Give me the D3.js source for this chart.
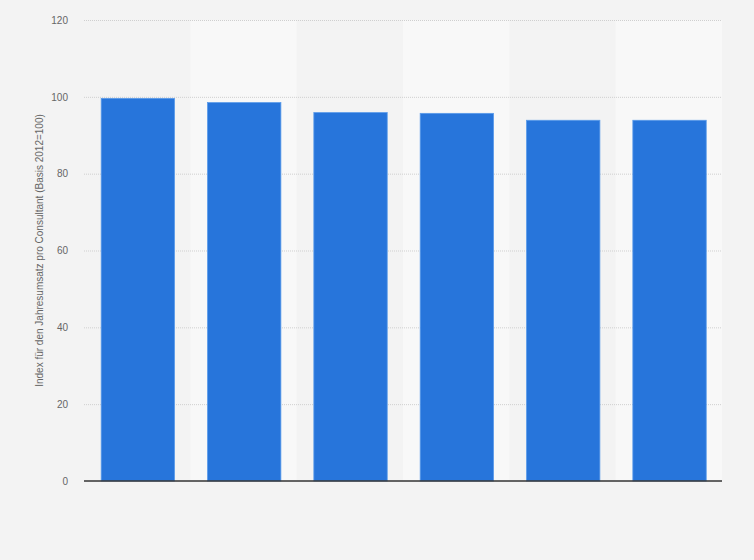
<!DOCTYPE html>
<html>
<head>
<meta charset="utf-8">
<script src="https://cdn.jsdelivr.net/npm/d3@7"></script>
<style>
	body { margin: 0; background: #f3f3f3; }
	svg { display: block; font-family: "Liberation Sans", Arial, sans-serif; }
</style>
</head>
<body>
<div id="chart"></div>
<script>

// data (index, 2012 = 100)
var categories = ["2012", "2013", "2014", "2015", "2016", "2017"];
var values = [99.6, 98.5, 95.9, 95.7, 93.9, 93.9];
var yTicks = [0, 20, 40, 60, 80, 100, 120];
var yTitle = "Index für den Jahresumsatz pro Consultant (Basis 2012=100)";

function drawChart() {

	var width = 754;
	var height = 560;
	var margin = { top: 20, right: 32, bottom: 79, left: 84 };

	var svg = d3.select("div#chart")
		.append("svg")
		.attr("width", width)
		.attr("height", height);

	svg.append("rect")
		.attr("width", width)
		.attr("height", height)
		.attr("fill", "#f3f3f3");

	var x = d3.scaleBand()
		.domain(categories)
		.range([margin.left, width - margin.right])
		.paddingInner(0.31)
		.paddingOuter(0.155);

	var y = d3.scaleLinear()
		.domain([0, 120])
		.range([height - margin.bottom, margin.top]);

	// alternating lighter bands behind every second category
	var step = x.step();
	var gap = step - x.bandwidth();
	svg.append("g")
		.selectAll("rect")
		.data(categories.filter(function(d, i) { return i % 2 == 1; }))
		.enter()
		.append("rect")
		.attr("x", function(d) { return x(d) - gap / 2; })
		.attr("y", y(120))
		.attr("width", step)
		.attr("height", y(0) - y(120))
		.attr("fill", "#f8f8f8");

	// gridlines
	svg.append("g")
		.selectAll("line")
		.data(yTicks.filter(function(d) { return d > 0; }))
		.enter()
		.append("line")
		.attr("x1", margin.left)
		.attr("x2", width - margin.right)
		.attr("y1", function(d) { return y(d) + 0.5; })
		.attr("y2", function(d) { return y(d) + 0.5; })
		.attr("stroke", "#cfcfcf")
		.attr("stroke-width", 1)
		.attr("stroke-dasharray", "1,1");

	// y axis labels
	var yAxis = d3.axisLeft(y)
		.tickValues(yTicks)
		.tickSize(0)
		.tickPadding(16);

	var gy = svg.append("g")
		.attr("transform", "translate(" + margin.left + ",0)")
		.call(yAxis);
	gy.select(".domain").remove();
	gy.selectAll("text")
		.attr("fill", "#666")
		.style("font-size", "10px");

	svg.append("text")
		.attr("transform", "translate(43," + ((y(0) + y(120)) / 2) + ") rotate(-90)")
		.attr("text-anchor", "middle")
		.attr("fill", "#666")
		.style("font-size", "10px")
		.text(yTitle);

	// bars
	svg.append("g")
		.attr("transform", "translate(0.7,0)")
		.selectAll("rect")
		.data(values)
		.enter()
		.append("rect")
		.attr("x", function(d, i) { return x(categories[i]); })
		.attr("y", function(d) { return y(d); })
		.attr("width", x.bandwidth())
		.attr("height", function(d) { return y(0) - y(d); })
		.attr("fill", "#2775db")
		.attr("stroke", "#5a9bea")
		.attr("stroke-width", 0.8);

	// baseline
	svg.append("line")
		.attr("x1", margin.left)
		.attr("x2", width - margin.right)
		.attr("y1", y(0))
		.attr("y2", y(0))
		.attr("stroke", "#333")
		.attr("stroke-width", 1.5);
}

drawChart();
</script>
</body>
</html>
